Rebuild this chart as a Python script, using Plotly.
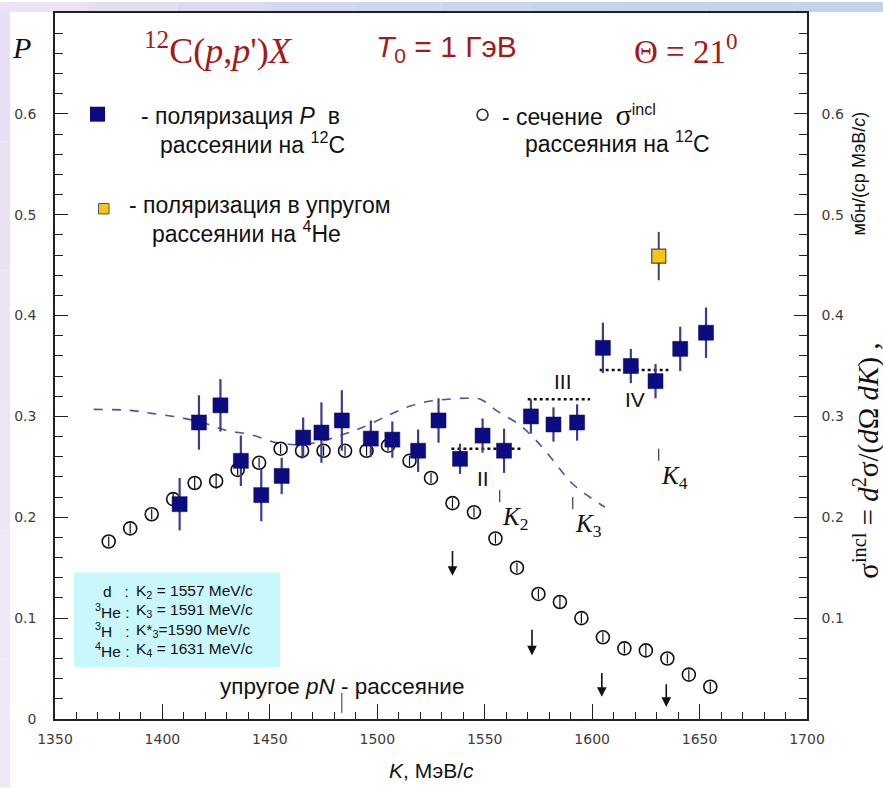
import plotly.graph_objects as go

# ---------------- data ----------------
# polarization P in 12C(p,p')X
P_K = [1408, 1417, 1427, 1436.5, 1446, 1455.5, 1465.5, 1474, 1483.5, 1497, 1507, 1519,
       1528.5, 1538.5, 1549, 1559, 1571.5, 1582, 1593, 1605, 1618, 1629.5, 1641, 1653]
P_val = [0.213, 0.294, 0.311, 0.256, 0.222, 0.241, 0.279, 0.284, 0.296, 0.278, 0.277, 0.266,
         0.296, 0.258, 0.281, 0.266, 0.300, 0.292, 0.294, 0.368, 0.350, 0.335, 0.367, 0.383]
P_err = [0.026, 0.027, 0.026, 0.025, 0.026, 0.018, 0.020, 0.030, 0.030, 0.018, 0.018, 0.021,
         0.022, 0.015, 0.017, 0.022, 0.017, 0.017, 0.018, 0.025, 0.017, 0.017, 0.022, 0.025]

# elastic scattering on 4He
He_K = [1631]
He_val = [0.459]
He_err = [0.024]

# inclusive cross section sigma^incl
S_K = [1375, 1385, 1395, 1405, 1415, 1425, 1435, 1445, 1455, 1465, 1475, 1485, 1495, 1505,
       1515, 1525, 1535, 1545, 1555, 1565, 1575, 1585, 1595, 1605, 1615, 1625, 1635, 1645, 1655]
S_val = [0.176, 0.189, 0.203, 0.218, 0.234, 0.236, 0.247, 0.254, 0.268, 0.266, 0.266, 0.266,
         0.266, 0.271, 0.256, 0.239, 0.214, 0.205, 0.179, 0.150, 0.124, 0.116, 0.100, 0.081,
         0.070, 0.068, 0.060, 0.044, 0.032]
S_err = [0.005, 0.005, 0.005, 0.007, 0.007, 0.008, 0.005, 0.005, 0.005, 0.008, 0.005, 0.005,
         0.005, 0.005, 0.005, 0.005, 0.005, 0.005, 0.005, 0.005, 0.005, 0.006, 0.005, 0.005,
         0.005, 0.006, 0.005, 0.005, 0.005]

# model curve (dashed)
C_K = [1368, 1385, 1395, 1408, 1420, 1430, 1441, 1453, 1464, 1475, 1484, 1493, 1506, 1515,
       1524, 1533, 1541, 1548, 1556, 1566, 1574, 1582, 1591, 1606]
C_val = [0.307, 0.306, 0.303, 0.299, 0.293, 0.286, 0.282, 0.274, 0.272, 0.276, 0.282, 0.289,
         0.302, 0.310, 0.315, 0.317, 0.318, 0.317, 0.305, 0.292, 0.276, 0.256, 0.233, 0.210]

# plateau levels (dotted)
lvl_names = ["II", "III", "IV"]
lvl_K0 = [1534.5, 1570, 1603.5]
lvl_K1 = [1567, 1599, 1635.5]
lvl_val = [0.268, 0.317, 0.346]

# thresholds
K_thr_names = ["2", "3", "4"]
K_thr = [1557, 1591, 1631]

# arrows
arr_K = [1535, 1572, 1604.5, 1634.5]
arr_top = [0.168, 0.090, 0.047, 0.036]
arr_bot = [0.142, 0.063, 0.022, 0.012]

elastic_pN_K = 1483.5

# ---------------- layout geometry helpers ----------------
W, H = 883, 788
L, R, T, B = 55, 76, 11, 69
PW, PH = W - L - R, H - T - B


def px(x):
    return (x - L) / PW


def py(y):
    return (H - B - y) / PH


NAVY = "#0c0c82"
ERR = "#3d3d8a"
RED = "#a01c1c"

fig = go.Figure()

# dashed curve
fig.add_trace(go.Scatter(x=C_K, y=C_val, mode="lines",
                         line=dict(color="#4f4fa3", width=1.6, dash="dash", shape="spline"),
                         hoverinfo="skip"))

# dotted plateaus
for k0, k1, v in zip(lvl_K0, lvl_K1, lvl_val):
    fig.add_trace(go.Scatter(x=[k0, k1], y=[v, v], mode="lines",
                             line=dict(color="#111111", width=2.6, dash="dot"),
                             hoverinfo="skip"))

# cross section circles
fig.add_trace(go.Scatter(x=S_K, y=S_val, mode="markers",
                         marker=dict(symbol="circle-open", size=13, color="#111111",
                                     line=dict(width=1.6, color="#111111")),
                         error_y=dict(type="data", array=S_err, color="#111111",
                                      thickness=1.2, width=0)))

# P squares
fig.add_trace(go.Scatter(x=P_K, y=P_val, mode="markers",
                         marker=dict(symbol="square", size=15, color=NAVY,
                                     line=dict(width=0.5, color="#06064a")),
                         error_y=dict(type="data", array=P_err, color=ERR,
                                      thickness=2.2, width=0)))

# 4He point
fig.add_trace(go.Scatter(x=He_K, y=He_val, mode="markers",
                         marker=dict(symbol="square", size=14, color="#f5c518",
                                     line=dict(width=1.2, color="#4a4a4a")),
                         error_y=dict(type="data", array=He_err, color="#454560",
                                      thickness=2, width=0)))

# secondary axis holder
fig.add_trace(go.Scatter(x=[None], y=[None], yaxis="y2", showlegend=False))

shapes = []
ann = []

# threshold ticks and labels
for name, k in zip(K_thr_names, K_thr):
    yv = {"2": 0.221, "3": 0.214, "4": 0.262}[name]
    shapes.append(dict(type="line", xref="x", yref="y", x0=k, x1=k,
                       y0=yv - 0.006, y1=yv + 0.006, line=dict(color="#111", width=1)))
    ann.append(dict(x=k + 0.3, y=yv - 0.005, xref="x", yref="y", xanchor="left", yanchor="top",
                    text="<i>K</i><sub>%s</sub>" % name, showarrow=False,
                    font=dict(family="Liberation Serif", size=25, color="#111")))

# roman labels
for name, k, v in zip(lvl_names, [1549, 1586.3, 1619.8], [0.238, 0.335, 0.317]):
    ann.append(dict(x=k, y=v, xref="x", yref="y", xanchor="center", yanchor="middle",
                    text=name, showarrow=False,
                    font=dict(family="Liberation Sans", size=21, color="#111")))

# arrows
for k, t, b in zip(arr_K, arr_top, arr_bot):
    ann.append(dict(x=k, y=b, ax=k, ay=t, xref="x", yref="y", axref="x", ayref="y",
                    text="", showarrow=True, arrowhead=2, arrowsize=1.2, arrowwidth=1.6,
                    arrowcolor="#111"))

# elastic pN marker
shapes.append(dict(type="line", xref="x", yref="y", x0=elastic_pN_K, x1=elastic_pN_K,
                   y0=0.006, y1=0.026, line=dict(color="#333", width=1)))
ann.append(dict(x=px(342), y=py(686), xref="paper", yref="paper", showarrow=False,
                xanchor="center", yanchor="middle",
                text="упругое <i>pN</i> - рассеяние",
                font=dict(family="Liberation Sans", size=22.5, color="#111")))

# cyan info box
shapes.append(dict(type="rect", xref="paper", yref="paper", x0=px(74), x1=px(280),
                   y0=py(667), y1=py(572), fillcolor="#c9f8fc", line=dict(width=0),
                   layer="below"))
box_pref = ["d&nbsp;&nbsp;&nbsp;:", "<sup>3</sup>He :", "<sup>3</sup>H&nbsp;&nbsp;&nbsp;:",
            "<sup>4</sup>He :"]
box_rest = ["K<sub>2</sub> = 1557 MeV/c", "K<sub>3</sub> = 1591 MeV/c",
            "K*<sub>3</sub>=1590 MeV/c", "K<sub>4</sub> = 1631 MeV/c"]
for i, (a, b) in enumerate(zip(box_pref, box_rest)):
    yy = 591 + i * 19.5
    ann.append(dict(x=px(131), y=py(yy), xref="paper", yref="paper", xanchor="right",
                    yanchor="middle", text=a, showarrow=False,
                    font=dict(family="Liberation Sans", size=15.5, color="#111")))
    ann.append(dict(x=px(134), y=py(yy), xref="paper", yref="paper", xanchor="left",
                    yanchor="middle", text=b, showarrow=False,
                    font=dict(family="Liberation Sans", size=15.5, color="#111")))

# legend block
shapes.append(dict(type="rect", xref="paper", yref="paper", x0=px(90), x1=px(105),
                   y0=py(120), y1=py(105), fillcolor=NAVY, line=dict(width=0)))
shapes.append(dict(type="rect", xref="paper", yref="paper", x0=px(98.5), x1=px(109),
                   y0=py(212.5), y1=py(202), fillcolor="#f5c518",
                   line=dict(width=1, color="#555")))
shapes.append(dict(type="circle", xref="paper", yref="paper", x0=px(477), x1=px(488),
                   y0=py(118.5), y1=py(107.5), line=dict(width=1.6, color="#333")))

LF = dict(family="Liberation Sans", size=23, color="#111")
for txt, x0, y0 in [("- поляризация <i>P</i>&nbsp;&nbsp;в", 139, 114),
                    ("рассеянии на&nbsp;<sup>12</sup>C", 158, 141),
                    ("- поляризация в упругом", 127, 204),
                    ("рассеянии на <sup>4</sup>He", 150, 231),
                    ("- сечение&nbsp;&nbsp;<span style='font-family:Liberation Serif;font-size:30px'>σ</span><sup>incl</sup>", 500, 113),
                    ("рассеяния на <sup>12</sup>C", 523, 140)]:
    ann.append(dict(x=px(x0), y=py(y0), xref="paper", yref="paper", xanchor="left",
                    yanchor="middle", text=txt, showarrow=False, font=LF))

# header texts
ann.append(dict(x=px(218), y=py(47), xref="paper", yref="paper", showarrow=False,
                xanchor="center", yanchor="middle",
                text="<sup>12</sup>C(<i>p</i>,<i>p</i>')<i>X</i>",
                font=dict(family="Liberation Serif", size=36, color=RED)))
ann.append(dict(x=px(446), y=py(47), xref="paper", yref="paper", showarrow=False,
                xanchor="center", yanchor="middle",
                text="<i>T</i><sub>0</sub> = 1 ГэВ",
                font=dict(family="Liberation Sans", size=30, color=RED)))
ann.append(dict(x=px(686), y=py(47), xref="paper", yref="paper", showarrow=False,
                xanchor="center", yanchor="middle",
                text="Θ = 21<sup>0</sup>",
                font=dict(family="Liberation Serif", size=33, color=RED)))

# axis titles
ann.append(dict(x=px(21), y=py(46), xref="paper", yref="paper", showarrow=False,
                xanchor="center", yanchor="middle",
                text="<i>P</i>", font=dict(family="Liberation Serif", size=30, color="#111")))
ann.append(dict(x=px(431), y=py(771), xref="paper", yref="paper", showarrow=False,
                xanchor="center", yanchor="middle",
                text="<i>K</i>, МэВ/<i>c</i>",
                font=dict(family="Liberation Sans", size=21, color="#111")))
ann.append(dict(x=px(867), y=py(460), xref="paper", yref="paper", showarrow=False,
                xanchor="center", yanchor="middle", textangle=-90,
                text="σ<sup>incl</sup> = <i>d</i><sup>2</sup>σ/(<i>d</i>Ω <i>dK</i>) ,",
                font=dict(family="Liberation Serif", size=29, color="#111")))
ann.append(dict(x=px(859), y=py(172), xref="paper", yref="paper", showarrow=False,
                xanchor="center", yanchor="middle", textangle=-90,
                text="мбн/(ср МэВ/<i>c</i>)",
                font=dict(family="Liberation Sans", size=18, color="#111")))

# decorative page background bands
top_cols = ["#ebe2f5", "#e4def4", "#dcdaf3", "#d5d8f2", "#cfd6f1", "#c9d5f0", "#c5d5ef",
            "#c2d5ee", "#c0d5ee", "#bfd5ee"]
n = len(top_cols)
for i, c in enumerate(top_cols):
    shapes.append(dict(type="rect", xref="paper", yref="paper",
                       x0=px(W * i / n), x1=px(W * (i + 1) / n), y0=py(10), y1=py(0),
                       fillcolor=c, line=dict(width=0), layer="below"))
left_cols = ["#e8dff4", "#eae1f5", "#ece3f5", "#ede5f6", "#eee7f6", "#efe9f7"]
m = len(left_cols)
for i, c in enumerate(left_cols):
    shapes.append(dict(type="rect", xref="paper", yref="paper",
                       x0=px(0), x1=px(10), y0=py(10 + (H - 10) * (i + 1) / m),
                       y1=py(10 + (H - 10) * i / m),
                       fillcolor=c, line=dict(width=0), layer="below"))

TICKF = dict(family="DejaVu Sans", size=14, color="#3c3c3c")

fig.update_layout(
    width=W, height=H,
    margin=dict(l=L, r=R, t=T, b=B, pad=0),
    paper_bgcolor="white", plot_bgcolor="white",
    showlegend=False,
    shapes=shapes, annotations=ann,
    xaxis=dict(range=[1350, 1700], dtick=50, tick0=1350, ticks="inside", ticklen=15,
               tickwidth=1.2, tickcolor="#222", showline=True, linecolor="#222",
               linewidth=1.5, mirror=True, showgrid=False, zeroline=False,
               tickfont=TICKF, ticklabelstandoff=6,
               minor=dict(dtick=10, ticks="inside", ticklen=7, tickwidth=1,
                          tickcolor="#222", showgrid=False)),
    yaxis=dict(range=[0, 0.7], tickvals=[0, 0.1, 0.2, 0.3, 0.4, 0.5, 0.6],
               ticktext=["0", "0.1", "0.2", "0.3", "0.4", "0.5", "0.6"],
               ticks="inside", ticklen=13, tickwidth=1.2, tickcolor="#222",
               showline=True, linecolor="#222", linewidth=1.5, showgrid=False,
               zeroline=False, tickfont=TICKF, ticklabelstandoff=14,
               minor=dict(dtick=0.02, tick0=0, ticks="inside", ticklen=8, tickwidth=1,
                          tickcolor="#222", showgrid=False)),
    yaxis2=dict(range=[0, 0.7], overlaying="y", side="right",
                tickvals=[0.1, 0.2, 0.3, 0.4, 0.5, 0.6],
                ticktext=["0.1", "0.2", "0.3", "0.4", "0.5", "0.6"],
                ticks="inside", ticklen=13, tickwidth=1.2, tickcolor="#222",
                showline=True, linecolor="#222", linewidth=1.5, showgrid=False,
                zeroline=False, tickfont=TICKF, ticklabelstandoff=10,
                minor=dict(dtick=0.02, tick0=0, ticks="inside", ticklen=8, tickwidth=1,
                           tickcolor="#222", showgrid=False)),
)

fig.write_html("out.html", config={"displayModeBar": False},
               post_script="document.body.style.margin='0';document.body.style.overflow='hidden';")
